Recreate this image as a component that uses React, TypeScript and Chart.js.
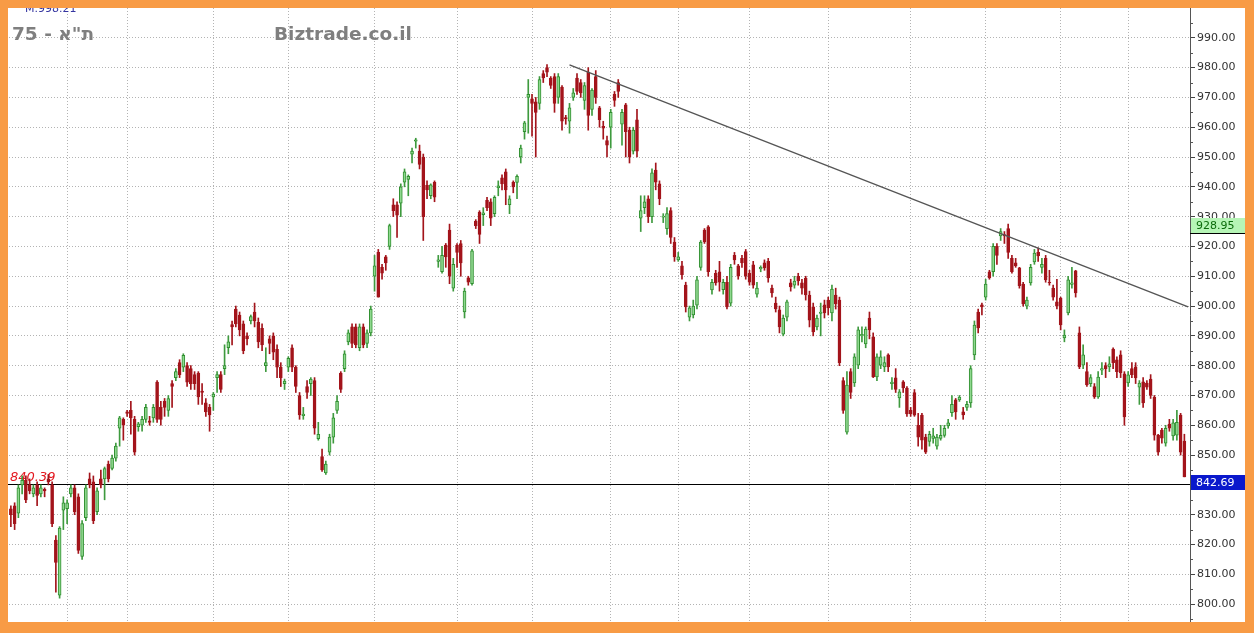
import { useEffect, useRef } from 'react';
import { Chart, registerables } from 'chart.js';

Chart.register(...registerables);

// ---- data ----
const opens = [
  832,833,830.5,840,841.5,840,837,840,837,838.5,
  842,840,821.5,803,831.5,832,837,839,836,816,
  829,842,841,831,842,842,847,845.5,849,859,
  862,864.5,865,862,859.5,860,862,861.5,862.5,874.5,
  866,868,865,874,876,881,879.5,880,879,877,
  877.5,871.5,867.5,866,869.5,876,877,879,886,893.8,
  899,897,894,890,895,898,894.5,892.5,880,889,
  890,885.5,879.5,874,879.5,886,879.5,870,863.2,873,
  874,875,855.5,849.5,844,851,856,865,877.5,879,
  888,893,893,886,893,887.5,891,910,918,913,
  916.5,920,934,934,934.5,941.6,942.5,951,955.3,952,
  950,940.5,937,941.5,915,911.5,920.5,925.5,906,920.5,
  921,898,909.5,907.5,928.5,931.5,930.7,935.5,935,931,
  939.7,943,945,934,941.5,941.5,950,958.5,970,969.5,
  968.5,968,978,980,976.5,977,970,973.5,963.2,962,
  970,976.5,975,969,978.5,966,977,966.5,960.3,955.5,
  960,971,975,961,967.5,959,952,962.5,929.5,933,
  936,930,945.6,941,929.8,926,932,921.5,915.5,913.5,
  907,896.3,897,900.3,913,925.5,926.6,905.4,911,911.5,
  905.5,908,901,917,913.5,916,918.3,911,913.8,904,
  912.5,914.5,915,906,901,898.7,890.6,896.3,907.8,907,
  910,907.8,909.4,903.7,899.7,893,897.5,900.4,902,897.7,
  903.7,902,875,857.7,878,874.2,880.2,890,887.3,896,
  889.7,876.2,880.2,879.6,883.6,874,875.9,869.2,874.6,872.5,
  865,871,860,863.4,856,854.6,855.6,853,855.6,856.6,
  859.8,864.2,868.5,868.5,864.5,866,867.5,883.6,898,900.4,
  903,911.5,911.5,920,923.5,924,926,916,914.5,912.8,
  907.4,900,907.8,914.8,918,913,916,908,906,901.4,
  902.7,889.3,897.7,907.3,911.8,891,880.2,878,874,873,
  869.5,878.5,880,879.6,885.6,882,883.6,877.3,874.2,879,
  879.6,872.8,874.6,874.2,875.5,869.5,856.7,858.4,854,860.4,
  856.4,856.7,863.4,854.7,
];

const highs = [
  833,834,840,843,843,842,840,841,840,839,
  843.5,841,823,826,836,835,840,840,837,828,
  840,844,843,839,845,846,848,850,854,863,
  862.5,865,868,863,861,863,867,863,867,875,
  868,869,870,875,879,882,884,881,880,878,
  878,874,869,867,871,878,878,887,890,895,
  900,898,895,891,897,901,896,894,886,890,
  891,887,881,875.5,883,887,880,871,866,875,
  876,876,861,852,848,857,864,870,878,885,
  892,894,894,894,894,892,900,917,919,914,
  917,927.5,936,935,941,946,944,953,956.3,954,
  951,942,941,942,917,920,921,927.5,916,921,
  922,906,910,919,929,932,933,936.5,936,937,
  942,944,946,937,942,944,954,962,976,971,
  970,977,979,981,977,978,978,974,964,968,
  973,978,976,975,980,973,979,967,962,957,
  966,972,976,966,968,960,960,966,937,937,
  937,946,948,942,931,933,933,923,918,915,
  908,900,902,910,922,926,927,909,912,915,
  909,910,914,918,914,917,919,912,915,908,
  913.5,915.5,916,907,903,900,897,902,909,910,
  911,909,910,905,901,897,901,902,903,907,
  906,903,876,878,879,884,893,893,893,898,
  891,884,885,883,884,876,879,872,875,873,
  866,872,864,864,857,858,859,857,860,860,
  862,870,869,870,866,868,880,895,899,901,
  909,912,921,921,926,925,927.5,917,916,913,
  908,903,914,919,919.5,916,917,912,907,909,
  903,892,910,913,912,893,887,881,877,874,
  878,881,881,883,886,883,885,878,878,881,
  881,875,876,875,877,870,857,859,860,862,
  862,865,864,857,
];

const lows = [
  826,825,829,837,834,837,836,833,836,836,
  840,826,804,802,825,827,836,830,817,815,
  828,839,827,830,839,835,841,845,848,853,
  855,863,857,850,858,858,861,860,861,861,
  860,863,863,866,875,876,878,873,872,872,
  867,867,863,858,865,871,871,877,884,887,
  893,890,884,887,894,893,886,885,878,884,
  882,876,873,872,878,878,871,862,862,869,
  870,857,855,844.5,843.5,850,854,864,871,878,
  887,886,886,885,886,886,890,905,903,909,
  912,919,930,923,930,940,937,948,953,946,
  922,936,936,935,913,911,913,907.5,905,913,
  910,896,907,907,926,921,927,932,927,930,
  937,939,934,931,938,936,948,956,958,957,
  950,966,975,977,973,965,968,959,961,958,
  969,971,970,966,959,964,968,960,956,950,
  953,967,970,954,950,948,951,950,925,931,
  928,928,939,934,928,924,921,915,915,909,
  898,895,896,899,912,921,910,904,907,905,
  904,899,900,914,909,913,909,907,906,903,
  911.5,912,908,903,898,891,890,895,905,906,
  907,904,902,893,890,892,890,896,897,895,
  899,880,864,857,869,873,879,888,886,889,
  876,875,879,878,878,872,871,866,871,863,
  863,863,853,852,850.5,853,854,852,855,856,
  859,863,862,868,862,865,866,882,891,897,
  902,909,910,914,922,921,916,911,913,906,
  900,899,907,914,915,911,908,907,902,899,
  892,888,897,906,903,879,879,873,873,869,
  869,877,876,878,879,876,876,860,873,876,
  874,867,866,872,869,855,850,854,853,858,
  855,855,850,842.7,
];

const closes = [
  830,827,839,841.5,835,838,839,836.5,839,838,
  841,827,814,825.5,834,834,839,831,818,827,
  839,840,828,838,840,845.5,842,849,853,862.5,
  860,864,862.5,851,860.5,862,866,861,866,862,
  862,866,869,873,878,877,883.5,874.5,874,874,
  869.5,871,864.5,863.5,870.5,877,872,880,888,893,
  894,892,885,889,896.5,895,888,887,881,887.5,
  884.5,879.5,876,874.8,882.5,879.5,873,863.5,863.8,871,
  875.5,859,857,845,847,856,862.5,868,872,884,
  891,887.5,887,893,887,891,899,913.5,903,911,
  914.5,927,932,930.5,940,945,943.5,952,955.8,947.5,
  930,939,940.7,936.5,915.5,917,916.5,910,914,918,
  914.5,905,908,918.5,927,924,931.3,933,929.5,936.5,
  940.3,941,939,936,940,943.5,953,961.5,971,968,
  965,976,976.5,978.5,974,968,977,962,962.8,966.5,
  971.5,972,971.5,974,964,972.5,970,962.5,959.7,954,
  965,969,972,965,958.5,950,959,952,932,935,
  930,944.7,941.6,936,930.2,931,923,916.5,916.5,910.5,
  899.7,899.4,900,908.8,921.5,921.5,911.5,908,907.8,908,
  908,899.7,913,915.5,910,914.5,910,908,907,906,
  913,912.8,909.4,904.4,899,893,896,901.4,906.4,908.4,
  908.4,906,903.7,895.3,891.3,896,898,897.7,899.4,905.7,
  900.7,881,865,873.5,871,883,892,890.5,892.3,892,
  876.2,883,883,881,879.6,874.5,872,871.2,872.5,863.8,
  863.8,863.4,856,855,851,857,856.5,856,856.6,859,
  860.8,867,864.5,869.5,863.5,867,879,893.6,892.7,899.7,
  907.4,909.4,920,917,925,923.5,918,911.5,913.5,906.8,
  900.7,902,913,917.8,916.8,914,908.8,907.8,903,900,
  893.7,890.3,908.8,907.8,904.4,879.6,883.6,873.5,876,869.5,
  876.2,879,879,880.6,881,878,877.6,862.8,876.9,877,
  875.9,874.2,867.5,872.8,870,856.7,851,855.7,859,859,
  860.8,861,851,842.69,
];

// one spare slot at the right edge, like the reference
const categories = Array.from({ length: closes.length + 1 }, (_, i) => String(i + 1));
const yTickValues = [800, 810, 820, 830, 840, 850, 860, 870, 880, 890, 900, 910, 920, 930, 940, 950, 960, 970, 980, 990];
const monthStartIdx = [15, 31, 54, 74, 97, 119, 139, 160, 178, 197, 218, 240, 260, 280, 298];
const trendIdx = [149, 314];
const trendVals = [980.9, 899.7];
const refLevel = 840.39;
const lastPrice = 842.69;
const markerLevel = 928.95;
const titleText = '75 - ת"א';
const siteText = 'Biztrade.co.il';
const maxText = 'M.998.21';

const FONT = '"DejaVu Sans", Verdana, sans-serif';
const RED = '#a3141b';
const GREEN_FILL = '#8fd88f';
const GREEN_EDGE = '#2f8f2f';

const overlayPlugin = {
  id: 'overlay',
  beforeDatasetsDraw(chart: any) {
    const { ctx, chartArea } = chart;
    const y = chart.scales.y;
    ctx.save();
    ctx.font = `bold 18.5px ${FONT}`;
    ctx.fillStyle = '#7f7f7f';
    ctx.textBaseline = 'middle';
    ctx.fillText(titleText, 4, 27);
    ctx.fillText(siteText, 266, 27);
    ctx.font = `11px ${FONT}`;
    ctx.fillStyle = '#3535a0';
    ctx.textBaseline = 'alphabetic';
    ctx.fillText(maxText, 17, 4);
    const py = Math.round(y.getPixelForValue(refLevel)) + 0.5;
    ctx.strokeStyle = '#000';
    ctx.lineWidth = 1;
    ctx.beginPath();
    ctx.moveTo(0, py);
    ctx.lineTo(chartArea.right, py);
    ctx.stroke();
    ctx.font = `italic 13px ${FONT}`;
    ctx.fillStyle = '#e3161e';
    ctx.fillText(refLevel.toFixed(2), 2, py - 4);
    ctx.restore();
  },
  afterDraw(chart: any) {
    const { ctx, chartArea } = chart;
    const y = chart.scales.y;
    const W = chart.width;
    ctx.save();
    // minor ticks
    ctx.strokeStyle = '#555';
    ctx.lineWidth = 1;
    for (let v = 795; v < 1000; v += 5) {
      if (v % 10 === 0) continue;
      const p = Math.round(y.getPixelForValue(v)) + 0.5;
      ctx.beginPath();
      ctx.moveTo(chartArea.right, p);
      ctx.lineTo(chartArea.right + 3, p);
      ctx.stroke();
    }
    ctx.font = `11px ${FONT}`;
    ctx.textBaseline = 'middle';
    // green marker box
    const gTop = Math.round(y.getPixelForValue(markerLevel)) - 2;
    ctx.fillStyle = '#b6f5b6';
    ctx.fillRect(chartArea.right + 1, gTop, W - chartArea.right - 1, 15);
    ctx.fillStyle = '#0b6b0b';
    ctx.fillText(markerLevel.toFixed(2), chartArea.right + 6, gTop + 8);
    ctx.strokeStyle = '#000';
    ctx.beginPath();
    ctx.moveTo(chartArea.right, gTop + 15.5);
    ctx.lineTo(W, gTop + 15.5);
    ctx.stroke();
    // blue last price box
    const bTop = Math.round(y.getPixelForValue(lastPrice)) - 2;
    ctx.fillStyle = '#0a18cc';
    ctx.fillRect(chartArea.right + 1, bTop, W - chartArea.right - 1, 15);
    ctx.fillStyle = '#ffffff';
    ctx.fillText(lastPrice.toFixed(2), chartArea.right + 6, bTop + 8);
    ctx.restore();
  },
};

export default function App() {
  const ref = useRef<HTMLCanvasElement>(null);

  useEffect(() => {
    const canvas = ref.current;
    if (!canvas) return;
    Chart.defaults.font.family = FONT;
    const up = closes.map((c, i) => c >= opens[i]);
    const trendData: (number | null)[] = categories.map(() => null);
    trendIdx.forEach((idx, k) => { trendData[idx] = trendVals[k]; });

    const chart = new Chart(canvas, {
      type: 'bar',
      data: {
        labels: categories,
        datasets: [
          {
            type: 'line',
            data: trendData,
            borderColor: '#555555',
            borderWidth: 1.4,
            pointRadius: 0,
            spanGaps: true,
            order: 0,
          } as any,
          {
            type: 'bar',
            data: opens.map((o, i) => [o, closes[i]]),
            backgroundColor: up.map((u) => (u ? GREEN_FILL : RED)),
            borderColor: up.map((u) => (u ? GREEN_EDGE : RED)),
            borderWidth: 1,
            borderSkipped: false,
            barThickness: 3,
            grouped: false,
            order: 1,
          } as any,
          {
            type: 'bar',
            data: lows.map((l, i) => [l, highs[i]]),
            backgroundColor: up.map((u) => (u ? '#3e9a3e' : RED)),
            borderWidth: 0,
            barThickness: 1,
            grouped: false,
            order: 2,
          } as any,
        ],
      },
      options: {
        responsive: false,
        animation: false,
        devicePixelRatio: 1,
        layout: { padding: { left: 1, right: 0, top: 0, bottom: 0 } },
        plugins: { legend: { display: false }, tooltip: { enabled: false } },
        scales: {
          x: {
            type: 'category',
            offset: true,
            ticks: { display: false },
            grid: {
              offset: false,
              drawTicks: false,
              color: (c: any) => (monthStartIdx.includes(c.index) ? '#b3b3b3' : 'rgba(0,0,0,0)'),
              lineWidth: 1,
            },
            border: { display: false, dash: [1, 2] },
            afterFit: (s: any) => { s.height = 0; s.paddingLeft = 0; s.paddingRight = 0; },
          },
          y: {
            position: 'right',
            min: 794,
            max: 1000,
            afterBuildTicks: (s: any) => { s.ticks = yTickValues.map((v) => ({ value: v })); },
            afterFit: (s: any) => { s.width = 55; s.paddingTop = 0; s.paddingBottom = 0; },
            ticks: {
              callback: (v: any) => Number(v).toFixed(2),
              color: '#333333',
              font: { family: FONT, size: 11 },
              padding: 2,
            },
            grid: {
              color: '#b3b3b3',
              tickColor: '#444444',
              tickLength: 5,
              tickBorderDash: [],
            },
            border: { display: true, color: '#555555', width: 1, dash: [1, 2] },
          },
        },
      } as any,
      plugins: [overlayPlugin],
    });
    return () => chart.destroy();
  }, []);

  return (
    <div style={{ position: 'fixed', left: 0, top: 0, width: 1254, height: 633, background: '#f89b45', overflow: 'hidden' }}>
      <div style={{ position: 'absolute', left: 8, top: 8, width: 1237, height: 614, background: '#ffffff' }}>
        <canvas ref={ref} width={1237} height={614} style={{ display: 'block', width: 1237, height: 614 }} />
      </div>
    </div>
  );
}
